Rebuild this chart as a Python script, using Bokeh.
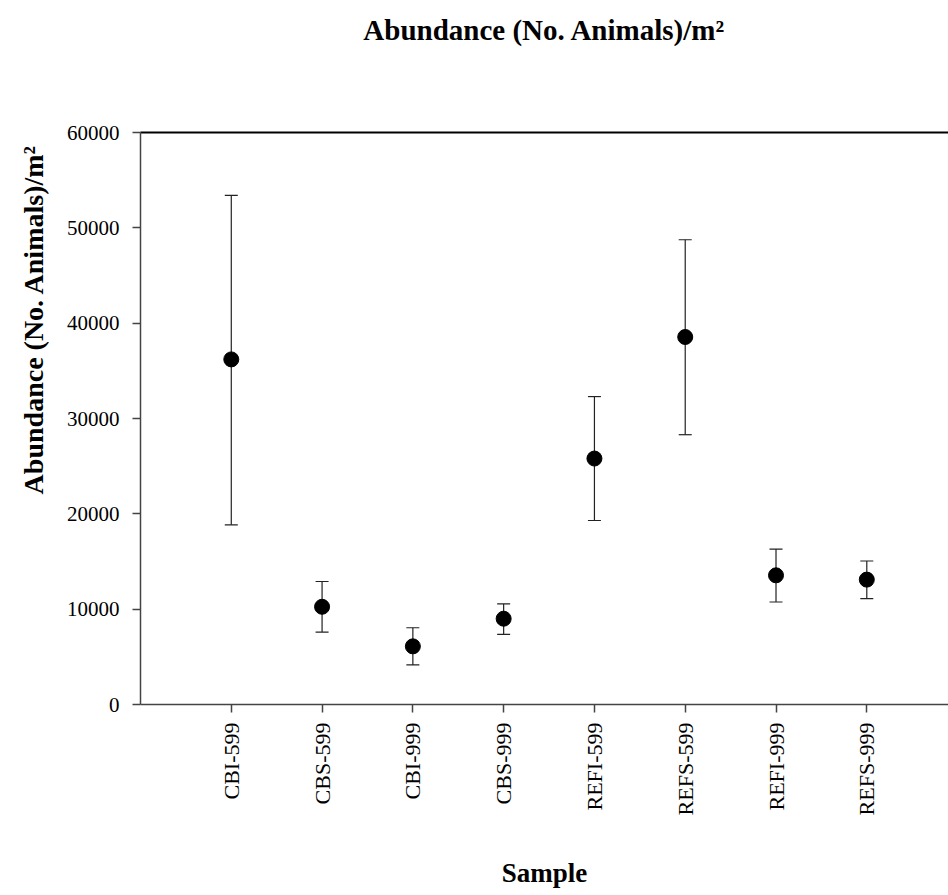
import numpy as np
from bokeh.plotting import figure
from bokeh.models import (ColumnDataSource, Whisker, TeeHead, FixedTicker, LinearAxis,
                          Title, Range1d)
from bokeh.embed import file_html
from bokeh.resources import INLINE

samples = ["CBI-599", "CBS-599", "CBI-999", "CBS-999", "REFI-599", "REFS-599", "REFI-999", "REFS-999"]
means = [36200, 10250, 6100, 9000, 25800, 38550, 13550, 13100]
upper = [53400, 12900, 8050, 10550, 32300, 48750, 16300, 15050]
lower = [18850, 7600, 4150, 7350, 19300, 28300, 10750, 11100]
y_ticks = [0, 10000, 20000, 30000, 40000, 50000, 60000]

title_text = "Abundance (No. Animals)/m\u00b2"
ylabel_text = "Abundance (No. Animals)/m\u00b2"
xlabel_text = "Sample"

FONT = "Liberation Serif"
xs = list(range(1, len(samples) + 1))

src = ColumnDataSource(dict(x=xs, y=means, upper=upper, lower=lower))

p = figure(width=948, height=895, output_backend="svg", toolbar_location=None,
           x_range=Range1d(0, 8.9), y_range=Range1d(0, 60000),
           min_border_left=140, min_border_right=0, min_border_top=132,
           min_border_bottom=191)
p.outline_line_color = None
p.grid.visible = False
p.background_fill_color = "white"
p.border_fill_color = "white"

w = Whisker(base="x", upper="upper", lower="lower", source=src,
            line_color="#222222", line_width=1.2,
            upper_head=TeeHead(size=13, line_color="#222222", line_width=1.2),
            lower_head=TeeHead(size=13, line_color="#222222", line_width=1.2))
p.add_layout(w)
p.scatter("x", "y", source=src, size=15, color="black")

# x axis
xa = p.xaxis[0]
xa.ticker = FixedTicker(ticks=xs)
xa.major_label_overrides = {x: s for x, s in zip(xs, samples)}
xa.major_label_orientation = np.pi / 2
xa.major_label_text_font = FONT
xa.major_label_text_font_size = "22px"
xa.major_label_text_color = "black"
xa.major_label_standoff = 10
xa.major_tick_in = 0
xa.major_tick_out = 8
xa.minor_tick_line_color = None
xa.axis_line_color = "#444444"
xa.axis_line_width = 1.5
xa.major_tick_line_color = "#444444"
xa.major_tick_line_width = 1.5
xa.axis_label = xlabel_text
xa.axis_label_text_font = FONT
xa.axis_label_text_font_style = "bold"
xa.axis_label_text_font_size = "27px"
xa.axis_label_text_color = "black"
xa.axis_label_standoff = 40

# y axis
ya = p.yaxis[0]
ya.ticker = FixedTicker(ticks=y_ticks)
ya.major_label_text_font = FONT
ya.major_label_text_font_size = "21px"
ya.major_label_text_color = "black"
ya.major_label_standoff = 13
ya.major_tick_in = 0
ya.major_tick_out = 8
ya.minor_tick_line_color = None
ya.axis_line_color = "#444444"
ya.axis_line_width = 1.5
ya.major_tick_line_color = "#444444"
ya.major_tick_line_width = 1.5

# top border line carrying the chart title
top = LinearAxis(ticker=FixedTicker(ticks=[]), axis_line_color="black", axis_line_width=2,
                 major_tick_line_color=None, minor_tick_line_color=None,
                 major_label_text_font_size="0px",
                 axis_label=title_text, axis_label_standoff=87,
                 axis_label_text_font=FONT, axis_label_text_font_style="bold",
                 axis_label_text_font_size="29px", axis_label_text_color="black")
p.add_layout(top, "above")

# y axis label as a left-side title, aligned toward the top like the reference
ylab = Title(text=ylabel_text, align="right", offset=12, standoff=29,
             text_font=FONT, text_font_style="bold", text_font_size="28px",
             text_color="black")
p.add_layout(ylab, "left")

open("out.html", "w").write(file_html(p, INLINE))
